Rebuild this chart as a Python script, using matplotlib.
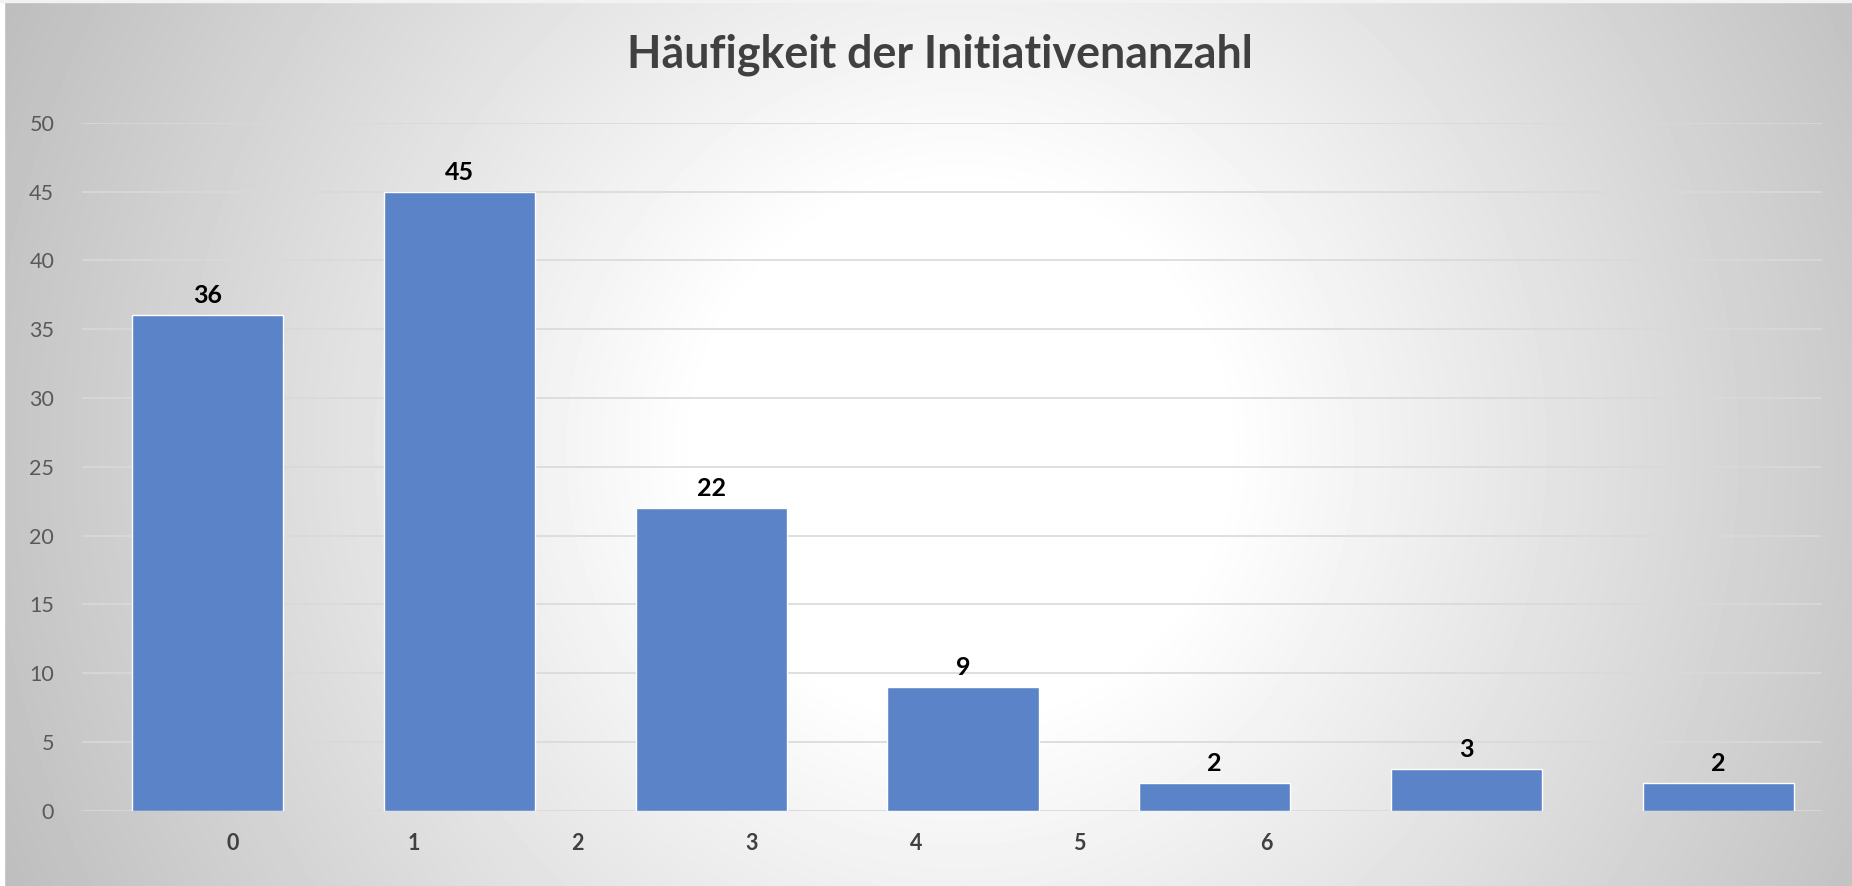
import numpy as np
import matplotlib
matplotlib.use("Agg")
import matplotlib.pyplot as plt
from matplotlib.patches import Rectangle

# ---- data ----
categories = ["A", "B", "C", "D", "E", "F", "G"]
values = [36, 45, 22, 9, 2, 3, 2]
xtick_labels = ["0", "1", "2", "3", "4", "5", "6"]
title = "Häufigkeit der Initiativenanzahl"

# ---- layout (style) ----
xtick_pos = [0.100, 0.819, 1.467, 2.162, 2.813, 3.461, 4.204]
W, H = 1852, 886
DPI = 100
plt.rcParams['font.family'] = ['Lato', 'DejaVu Sans']

fig = plt.figure(figsize=(W / DPI, H / DPI), dpi=DPI)

# radial gradient background
bg = fig.add_axes([0, 0, 1, 1], zorder=-10)
yy, xx = np.mgrid[0:H, 0:W]
cx, cy = 960, 450
d = np.hypot(xx - cx, yy - cy)
v = np.clip(255 - 0.083 * (d - 262), 190, 255)
bg.imshow(v, cmap='gray', vmin=0, vmax=255, extent=(0, W, H, 0), aspect='auto', interpolation='bilinear')
bg.add_patch(Rectangle((0, 0), 4, H, color='white'))
bg.add_patch(Rectangle((0, 0), W, 2, color='#f2f2f2'))
bg.set_xlim(0, W)
bg.set_ylim(H, 0)
bg.axis('off')

left, right = 82 / W, 1844 / W
bottom, top = (H - 810.7) / H, (H - 122.7) / H
ax = fig.add_axes([left, bottom, right - left, top - bottom])
ax.set_facecolor('none')

x = np.arange(len(categories))
ax.bar(x, values, width=0.6, color='#5b83c8', edgecolor='white', linewidth=1.0, zorder=3)
for xi, val in zip(x, values):
    ax.annotate(str(val), (xi, val), xytext=(0, 8.6), textcoords='offset points',
                ha='center', va='baseline', fontsize=18, fontweight='bold', color='black', zorder=4)

ax.set_xlim(-0.5, len(categories) - 0.5)
ax.set_ylim(0, 50)
yt = np.arange(0, 51, 5)
ax.set_yticks(yt)
grid_end = (1821 - 82) / (1844 - 82)
for yv in yt:
    ax.axhline(yv, xmin=0, xmax=grid_end, color='#d9d9d9', linewidth=1.2, zorder=0)
for s in ax.spines.values():
    s.set_visible(False)
ax.tick_params(axis='y', length=0, pad=20, labelsize=15.5, labelcolor='#595959')
ax.set_xticks(xtick_pos, xtick_labels)
ax.tick_params(axis='x', length=0, pad=16, labelsize=15.5, labelcolor='#404040')
for t in ax.get_xticklabels():
    t.set_fontweight('bold')

# title fitted to the reference width
ttl = fig.text(940 / W, 1 - 67 / H, title, ha='center', va='baseline',
               fontsize=30, fontweight='bold', color='#404040')
fig.canvas.draw()
w = ttl.get_window_extent().width
ttl.set_fontsize(30 * 625 / w)

fig.savefig('out.png', dpi=DPI)
